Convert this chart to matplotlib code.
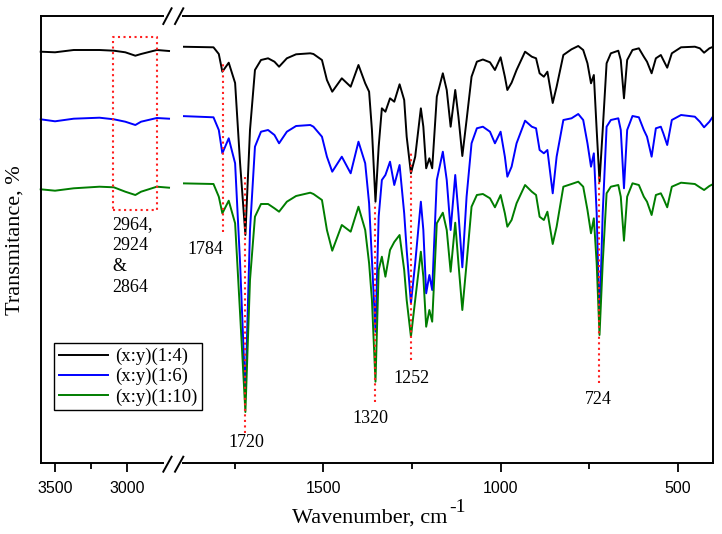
import matplotlib
matplotlib.use("Agg")
import matplotlib.pyplot as plt
from matplotlib.lines import Line2D

plt.rcParams["font.family"] = ["Liberation Serif", "DejaVu Serif"]

# ---- data ----
# left part of the broken axis, 3600-2700 cm-1
WN_HIGH = [3600, 3500, 3370, 3190, 3090, 3010, 2940, 2900, 2790, 2705]
HIGH_14 = [411.6, 411.0, 413.3, 413.3, 412.6, 411.0, 407.6, 409.3, 413.3, 412.3]
HIGH_16 = [344.0, 342.0, 344.6, 345.6, 344.0, 341.6, 338.3, 341.6, 345.3, 344.6]
HIGH_110 = [274.0, 272.6, 275.0, 276.6, 276.0, 271.6, 268.3, 271.6, 276.6, 275.6]

# right part, 1900-400 cm-1
WN_LOW = [1904, 1810, 1795, 1785, 1767, 1749, 1735, 1720, 1707, 1693,
          1676, 1656, 1638, 1625, 1603, 1577, 1537, 1528, 1504, 1490,
          1475, 1448, 1423, 1401, 1382, 1371, 1363, 1353, 1344, 1335,
          1325, 1312, 1300, 1285, 1272, 1265, 1253, 1241, 1225, 1218,
          1210, 1201, 1193, 1180, 1163, 1152, 1141, 1128, 1119, 1108,
          1096, 1082, 1067, 1050, 1030, 1016, 1000, 988, 981, 969,
          955, 931, 912, 900, 890, 878, 868, 853, 842, 823,
          800, 781, 767, 755, 745, 737, 729, 721, 712, 701,
          689, 668, 661, 652, 643, 628, 610, 596, 587, 574,
          562, 548, 541, 530, 517, 491, 452, 438, 426, 411, 400]
LOW_14 = [416.6, 416.0, 409.3, 391.6, 400.6, 380.3, 300.3, 228.3, 333.3, 393.3,
          403.3, 405.0, 401.6, 396.6, 405.0, 409.0, 410.0, 409.3, 403.3, 383.3,
          371.6, 385.0, 376.6, 398.3, 380.0, 371.6, 333.3, 261.6, 316.6, 355.0,
          351.6, 365.0, 361.6, 379.0, 363.3, 326.6, 290.0, 306.6, 355.0, 336.6,
          295.0, 305.0, 295.0, 366.6, 390.0, 373.3, 336.6, 373.3, 346.6, 307.3,
          343.3, 386.6, 401.6, 403.8, 401.0, 393.3, 406.0, 386.6, 373.3, 380.6,
          393.3, 411.6, 406.6, 405.0, 390.0, 386.6, 391.6, 360.3, 376.6, 408.3,
          414.0, 417.3, 413.3, 400.0, 380.0, 388.3, 333.3, 281.6, 333.3, 400.0,
          410.0, 412.6, 403.3, 365.0, 403.3, 413.3, 415.0, 406.6, 401.6, 390.0,
          405.0, 408.3, 403.3, 395.6, 410.0, 416.0, 416.6, 415.0, 410.6, 415.0, 416.6]
LOW_16 = [347.3, 346.0, 333.3, 310.0, 325.0, 300.0, 200.3, 68.3, 233.3, 316.6,
          331.6, 333.3, 328.3, 320.0, 331.6, 337.3, 338.3, 336.6, 326.6, 306.6,
          291.6, 306.6, 290.0, 321.6, 300.0, 260.0, 203.3, 131.6, 246.6, 283.3,
          288.3, 301.6, 278.3, 298.3, 250.0, 213.3, 160.0, 200.0, 261.6, 233.3,
          170.0, 188.3, 173.3, 283.3, 311.6, 283.3, 233.3, 288.3, 250.0, 196.0,
          266.6, 320.0, 335.0, 336.6, 331.6, 320.0, 331.6, 306.6, 286.6, 296.6,
          320.0, 342.6, 336.6, 335.0, 313.3, 310.0, 313.3, 270.0, 306.6, 343.3,
          345.0, 349.3, 343.3, 320.0, 296.6, 310.0, 250.0, 141.3, 250.0, 336.6,
          343.3, 345.0, 333.3, 275.0, 333.3, 347.3, 346.0, 333.3, 326.6, 306.6,
          335.0, 336.6, 330.0, 318.3, 343.3, 348.3, 346.6, 341.6, 336.0, 341.6, 347.3]
LOW_110 = [280.0, 279.3, 266.6, 250.0, 262.6, 240.0, 150.0, 51.3, 183.3, 246.6,
           259.3, 259.3, 255.0, 251.6, 261.6, 267.3, 270.6, 269.3, 263.3, 233.3,
           212.6, 238.3, 231.6, 256.6, 233.3, 200.0, 163.3, 81.6, 193.3, 206.6,
           186.6, 213.3, 221.3, 228.3, 193.3, 163.3, 126.6, 163.3, 211.6, 186.6,
           136.6, 153.3, 141.6, 240.0, 250.6, 233.3, 191.6, 240.6, 200.0, 153.3,
           200.0, 256.6, 268.3, 269.3, 265.0, 256.0, 268.3, 250.0, 236.6, 243.3,
           260.0, 278.3, 271.6, 268.3, 246.6, 243.3, 251.6, 219.3, 236.6, 276.6,
           279.3, 281.6, 276.6, 253.3, 230.0, 245.0, 200.0, 128.3, 200.0, 270.0,
           276.6, 278.3, 266.6, 222.6, 266.6, 280.0, 278.3, 266.6, 261.6, 248.3,
           268.3, 270.0, 265.0, 256.0, 276.6, 280.6, 279.3, 276.0, 273.3, 277.3, 279.3]

SERIES = ["(x:y)(1:4)", "(x:y)(1:6)", "(x:y)(1:10)"]
COLORS = ["#000000", "#0000ff", "#007d00"]

# marked bands: dotted line position, extent and label placement
PEAK_WN = [1784, 1720, 1353, 1253, 722]
PEAK_TOP = [400.3, 286.3, 260.3, 311.6, 288.3]
PEAK_BOTTOM = [231.6, 30.3, 61.6, 103.3, 80.0]
PEAK_LABELS = ["1784", "1720", "1320", "1252", "724"]
LABEL_WN = [1834, 1716, 1368, 1251, 724]
LABEL_Y = [213.3, 20.6, 45.0, 85.0, 64.0]

BOX_WN = [3098, 2791]
BOX_Y = [253.3, 426.6]
BOX_TEXT = "2964,\n2924\n&\n2864"

W, H = 722, 534
fig = plt.figure(figsize=(W / 100, H / 100), dpi=100)


def fx(px):
    return px / W


def fy(py):
    return 1 - py / H


ax1 = fig.add_axes([fx(40.7), fy(463.3), fx(163.3) - fx(40.7), fy(16) - fy(463.3)])
ax2 = fig.add_axes([fx(183), fy(463.3), fx(713.3) - fx(183), fy(16) - fy(463.3)])

handles = []
for ys, c in zip([HIGH_14, HIGH_16, HIGH_110], COLORS):
    ax1.plot(WN_HIGH, ys, color=c, lw=1.4, clip_on=False,
             solid_joinstyle="round")
for ys, c, lab in zip([LOW_14, LOW_16, LOW_110], COLORS, SERIES):
    h, = ax2.plot(WN_LOW, ys, color=c, lw=1.4, label=lab,
                  solid_joinstyle="round")
    handles.append(h)

for ax in (ax1, ax2):
    ax.set_ylim(0, 447.3)
    ax.set_yticks([])
    for s in ax.spines.values():
        s.set_linewidth(1.4)
    ax.tick_params(axis="x", which="major", direction="out", length=6.5, width=1.3,
                   labelsize=11.5, pad=6)
    ax.tick_params(axis="x", which="minor", direction="out", length=4, width=1.3)

ax1.set_xlim(3600, 2745)
ax1.set_xticks([3500, 3000])
ax1.set_xticks([3250], minor=True)
ax1.spines["right"].set_visible(False)

ax2.set_xlim(1896, 400)
ax2.set_xticks([1500, 1000, 500])
ax2.set_xticks([1750, 1250, 750], minor=True)
ax2.spines["left"].set_visible(False)
for ax in (ax1, ax2):
    for t in ax.get_xticklabels():
        t.set_fontfamily("Liberation Sans")

# dotted box over the C-H stretching region
ax1.plot([BOX_WN[0], BOX_WN[1], BOX_WN[1], BOX_WN[0], BOX_WN[0]],
         [BOX_Y[0], BOX_Y[0], BOX_Y[1], BOX_Y[1], BOX_Y[0]],
         color="#ff2020", ls=":", lw=1.5)
ax1.text(BOX_WN[0], BOX_Y[0] - 6, BOX_TEXT, ha="left", va="top", fontsize=13,
         linespacing=1.3)

for wn, top, bot, lab, lx, ly in zip(PEAK_WN, PEAK_TOP, PEAK_BOTTOM, PEAK_LABELS,
                                     LABEL_WN, LABEL_Y):
    ax2.plot([wn, wn], [bot, top], color="#ff2020", ls=":", lw=1.5)
    ax2.text(lx, ly, lab, ha="center", va="center", fontsize=13)

# axis break marks
for y0, y1 in [(24, 8.3), (471.7, 456.7)]:
    for x0 in (163.3, 175):
        fig.add_artist(Line2D([fx(x0), fx(x0 + 8.3)], [fy(y0), fy(y1)],
                              color="black", lw=1.4))

leg = fig.legend(handles=handles, loc="upper left",
                 bbox_to_anchor=(fx(54.3), fy(343.3)), fontsize=13.5,
                 frameon=True, fancybox=False, framealpha=1, edgecolor="black",
                 handlelength=2.6, handletextpad=0.4, labelspacing=0.15,
                 borderpad=0.25, borderaxespad=0)
leg.get_frame().set_linewidth(1.0)

fig.text(fx(447), fy(518), "Wavenumber, cm", ha="right", va="center",
         fontsize=16)
fig.text(fx(449), fy(507), "-1", ha="left", va="center", fontsize=14)
fig.text(fx(15), fy(240), "Transmitance, %", rotation=90,
         ha="center", va="center", fontsize=16)

fig.savefig("out.png", dpi=100)
